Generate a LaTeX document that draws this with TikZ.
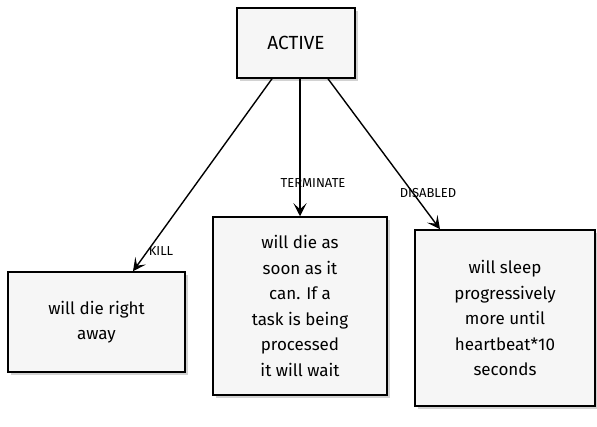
\documentclass[tikz,border=0pt]{standalone}
\usepackage{fontspec}
\setmainfont{Fira Sans}
\usetikzlibrary{arrows.meta,shadows}
\begin{document}
\begin{tikzpicture}[x=1pt,y=-1pt,
  box/.style={draw=black, line width=1.5pt, fill=gray!7,
    drop shadow={shadow xshift=3pt,shadow yshift=-3pt,opacity=0.35},
    align=center, font=\fontsize{17}{25.5}\selectfont, inner sep=0pt},
  conn/.style={line width=1.4pt, -{Stealth[length=13pt,width=13pt,inset=6pt]}},
  lbl/.style={font=\fontsize{13}{14}\selectfont, inner sep=1pt}]
\useasboundingbox (0,0) rectangle (597,426);
\fill[white] (0,0) rectangle (597,426);
\node[box, minimum width=118pt, minimum height=70pt, font=\fontsize{19}{22}\selectfont] (active) at (296,43) {ACTIVE};
\node[box, minimum width=177pt, minimum height=100pt] (kill) at (96.5,322) {will die right\\away};
\node[box, minimum width=174pt, minimum height=178pt] (term) at (300,306) {will die as\\soon as it\\can. If a\\task is being\\processed\\it will wait};
\node[box, minimum width=180pt, minimum height=176pt] (dis) at (505,318) {will sleep\\progressively\\more until\\heartbeat*10\\seconds};
\draw[conn] ([xshift=-24pt]active.south) -- ([xshift=36.5pt]kill.north);
\draw[conn] ([xshift=4pt]active.south) -- (term.north);
\draw[conn] ([xshift=32pt]active.south) -- ([xshift=-65pt]dis.north);
\node[lbl] (lkill) at (161,251) {KILL};
\node[lbl] (lterm) at (313,183) {TERMINATE};
\node[lbl] (ldis) at (428,193) {DISABLED};
\end{tikzpicture}
\end{document}
